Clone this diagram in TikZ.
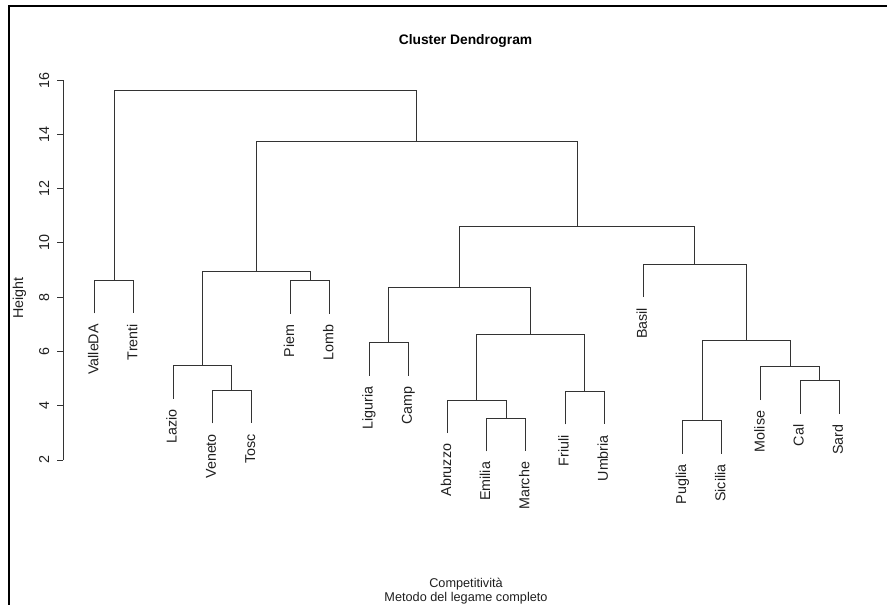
\documentclass[tikz,border=0pt]{standalone}
\usepackage{fontspec}
\setmainfont{Liberation Sans}
\newfontfamily\plotfont{Liberation Sans}
\begin{document}
\begin{tikzpicture}[
  branch/.style={draw=black!80, line width=0.9bp},
  frameline/.style={draw=black, line width=2.4bp},
  leaflab/.style={rotate=90, anchor=east, inner sep=0pt, text=black!88,
    font=\plotfont\fontsize{14.3bp}{17bp}\selectfont,
    text height=0.72em, text depth=0pt},
  ticklab/.style={rotate=90, anchor=center, inner sep=0pt, text=black!88,
    font=\plotfont\fontsize{14.3bp}{17bp}\selectfont,
    text height=0.72em, text depth=0pt},
  axislab/.style={rotate=90, inner sep=0pt, text=black!88,
    font=\plotfont\fontsize{14.3bp}{17bp}\selectfont},
  titlelab/.style={inner sep=0pt, text=black,
    font=\plotfont\bfseries\fontsize{13.8bp}{16bp}\selectfont},
  sublab/.style={anchor=base, inner sep=0pt, text=black!88,
    font=\plotfont\fontsize{12.7bp}{14bp}\selectfont}
]
\useasboundingbox (0,0) rectangle (887bp,605bp);

% window frame (top and left edges)
\coordinate (fTL) at (8.7bp,599bp);
\coordinate (fTR) at (887bp,599bp);
\coordinate (fBL) at (8.7bp,0bp);
\draw[frameline] (fBL) -- (fTL) -- (fTR);

% title and axis titles
\node[titlelab] (title) at (465.5bp,564bp) {Cluster Dendrogram};
\node[axislab] (ylab) at (19.5bp,307.2bp) {Height};
\node[sublab] (xlab) at (466bp,17.3bp) {Competitività};
\node[sublab] (sub) at (466bp,3.6bp) {Metodo del legame completo};

% height axis
\begin{scope}[x=1bp, y=27.14bp, shift={(0bp,90.7bp)}]
  \coordinate (ax2) at (63.3,2);
  \coordinate (ax16) at (63.3,16);
  \draw[branch] (ax2) -- (ax16);
  \foreach \h in {2,4,...,16} {
    \coordinate (tk\h) at (57.3,\h);
    \coordinate (ta\h) at (63.3,\h);
    \draw[branch] (tk\h) -- (ta\h);
    \node[ticklab] (tl\h) at (45.5,\h) {\h};
  }
\end{scope}

% dendrogram: x = leaf order, y = merge height
\begin{scope}[x=39.19bp, y=27.14bp, shift={(55.51bp,90.7bp)}]
  % leaf ends (parent height minus hang) and labels
  \foreach \i/\nm/\lab/\h in {
      1/va/ValleDA/8.62, 2/tr/Trenti/8.62, 3/la/Lazio/5.48,
      4/ve/Veneto/4.57, 5/to/Tosc/4.57, 6/pi/Piem/8.61, 7/lo/Lomb/8.61,
      8/li/Liguria/6.32, 9/ca/Camp/6.32, 10/ab/Abruzzo/4.21,
      11/em/Emilia/3.54, 12/ma/Marche/3.54, 13/fr/Friuli/4.53,
      14/um/Umbria/4.53, 15/ba/Basil/9.22, 16/pu/Puglia/3.45,
      17/si/Sicilia/3.45, 18/mo/Molise/5.43, 19/cl/Cal/4.92, 20/sa/Sard/4.92} {
    \coordinate (\nm) at (\i,\h-1.22);
    \node[leaflab] (\nm-l) at ([yshift=-10.5bp]\nm) {\lab};
  }

  % merge points
  \coordinate (mVT)  at (1.5,8.62);
  \coordinate (mVeT) at (4.5,4.57);
  \coordinate (mLa)  at (3.75,5.48);
  \coordinate (mPL)  at (6.5,8.61);
  \coordinate (mN)   at (5.125,8.96);
  \coordinate (mLC)  at (8.5,6.32);
  \coordinate (mEM)  at (11.5,3.54);
  \coordinate (mAEM) at (10.75,4.21);
  \coordinate (mFU)  at (13.5,4.53);
  \coordinate (mAF)  at (12.125,6.61);
  \coordinate (mCI)  at (10.3125,8.36);
  \coordinate (mPS)  at (16.5,3.45);
  \coordinate (mCS)  at (19.5,4.92);
  \coordinate (mMCS) at (18.75,5.43);
  \coordinate (mPM)  at (17.625,6.42);
  \coordinate (mB)   at (16.3125,9.22);
  \coordinate (mS)   at (13.3125,10.6);
  \coordinate (mNS)  at (9.21875,13.74);
  \coordinate (mR)   at (5.359375,15.63);

  % branches
  \draw[branch] (va) |- (mVT) -| (tr);
  \draw[branch] (ve) |- (mVeT) -| (to);
  \draw[branch] (la) |- (mLa) -| (mVeT);
  \draw[branch] (pi) |- (mPL) -| (lo);
  \draw[branch] (mLa) |- (mN) -| (mPL);
  \draw[branch] (li) |- (mLC) -| (ca);
  \draw[branch] (em) |- (mEM) -| (ma);
  \draw[branch] (ab) |- (mAEM) -| (mEM);
  \draw[branch] (fr) |- (mFU) -| (um);
  \draw[branch] (mAEM) |- (mAF) -| (mFU);
  \draw[branch] (mLC) |- (mCI) -| (mAF);
  \draw[branch] (pu) |- (mPS) -| (si);
  \draw[branch] (cl) |- (mCS) -| (sa);
  \draw[branch] (mo) |- (mMCS) -| (mCS);
  \draw[branch] (mPS) |- (mPM) -| (mMCS);
  \draw[branch] (ba) |- (mB) -| (mPM);
  \draw[branch] (mCI) |- (mS) -| (mB);
  \draw[branch] (mN) |- (mNS) -| (mS);
  \draw[branch] (mVT) |- (mR) -| (mNS);
\end{scope}
\end{tikzpicture}
\end{document}
